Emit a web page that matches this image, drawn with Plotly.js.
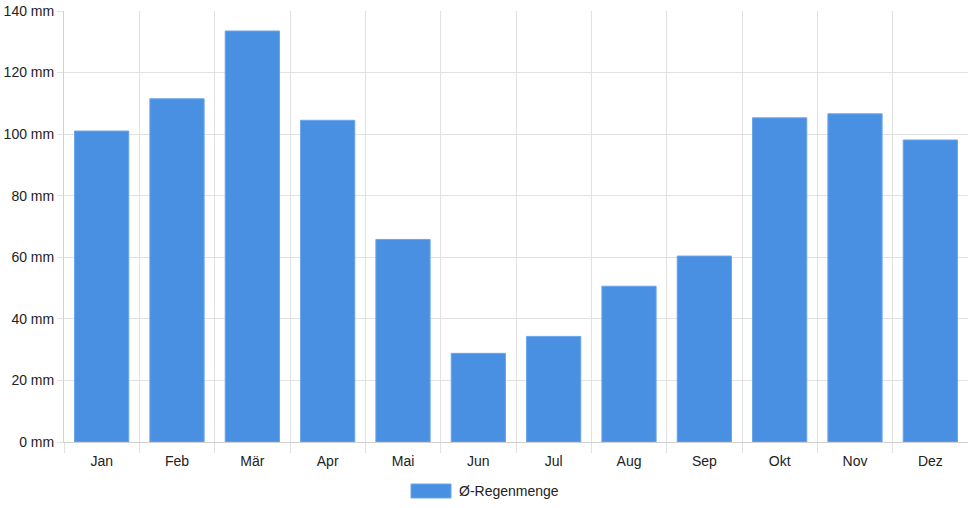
<!DOCTYPE html>
<html>
<head>
<meta charset="utf-8">
<script src="https://cdn.plot.ly/plotly-3.0.1.min.js"></script>
<style>html,body{margin:0;padding:0;background:#fff;}#chart{width:968px;height:508px;}</style>
</head>
<body>
<div id="chart"></div>
<script>
const months = ["Jan","Feb","Mär","Apr","Mai","Jun","Jul","Aug","Sep","Okt","Nov","Dez"];
const rainfall = [101, 111.5, 133.5, 104.5, 65.8, 28.8, 34.3, 50.6, 60.4, 105.3, 106.6, 98.1];
const seriesName = "Ø-Regenmenge";
const yTicks = [0, 20, 40, 60, 80, 100, 120, 140];

const barColor = "#4a90e2";
const gridColor = "#e2e2e2";
const fontFam = "Liberation Sans, Arial, sans-serif";

const trace = {
  type: "bar",
  x: months,
  y: rainfall,
  name: seriesName,
  width: 0.72,
  marker: {color: barColor, line: {color: "#6aa5ea", width: 1}},
  hoverinfo: "x+y",
  showlegend: false
};

const layout = {
  width: 968, height: 508,
  margin: {l: 64, r: 0, t: 11, b: 66},
  paper_bgcolor: "#fff", plot_bgcolor: "#fff",
  font: {family: fontFam, size: 14, color: "#222"},
  xaxis: {
    type: "category",
    tickson: "boundaries",
    ticks: "outside", ticklen: 10, tickcolor: gridColor, tickwidth: 1,
    ticklabelstandoff: 6,
    showgrid: true, gridcolor: gridColor, gridwidth: 1,
    showline: true, linecolor: "#d0d0d0", linewidth: 1,
    tickfont: {family: fontFam, size: 14, color: "#222"},
    fixedrange: true
  },
  yaxis: {
    range: [0, 140],
    tickvals: yTicks,
    ticktext: yTicks.map(v => v + " mm"),
    ticks: "outside", ticklen: 6, tickcolor: gridColor, tickwidth: 1,
    showgrid: true, gridcolor: gridColor, gridwidth: 1,
    zeroline: false,
    showline: true, linecolor: "#d0d0d0", linewidth: 1,
    tickfont: {family: fontFam, size: 14, color: "#222"},
    fixedrange: true
  },
  shapes: [{
    type: "rect", xref: "paper", yref: "paper",
    x0: (411 - 64) / 904, x1: (451 - 64) / 904,
    y0: (508 - 66 - 498) / 431, y1: (508 - 66 - 484) / 431,
    fillcolor: barColor, line: {color: "#6aa5ea", width: 1}
  }],
  annotations: [{
    xref: "paper", yref: "paper",
    x: (457 - 64) / 904, y: (508 - 66 - 491) / 431,
    xanchor: "left", yanchor: "middle",
    text: seriesName, showarrow: false,
    font: {family: fontFam, size: 14, color: "#222"}
  }],
  bargap: 0.28
};

Plotly.newPlot("chart", [trace], layout, {displayModeBar: false, staticPlot: true});
</script>
</body>
</html>
